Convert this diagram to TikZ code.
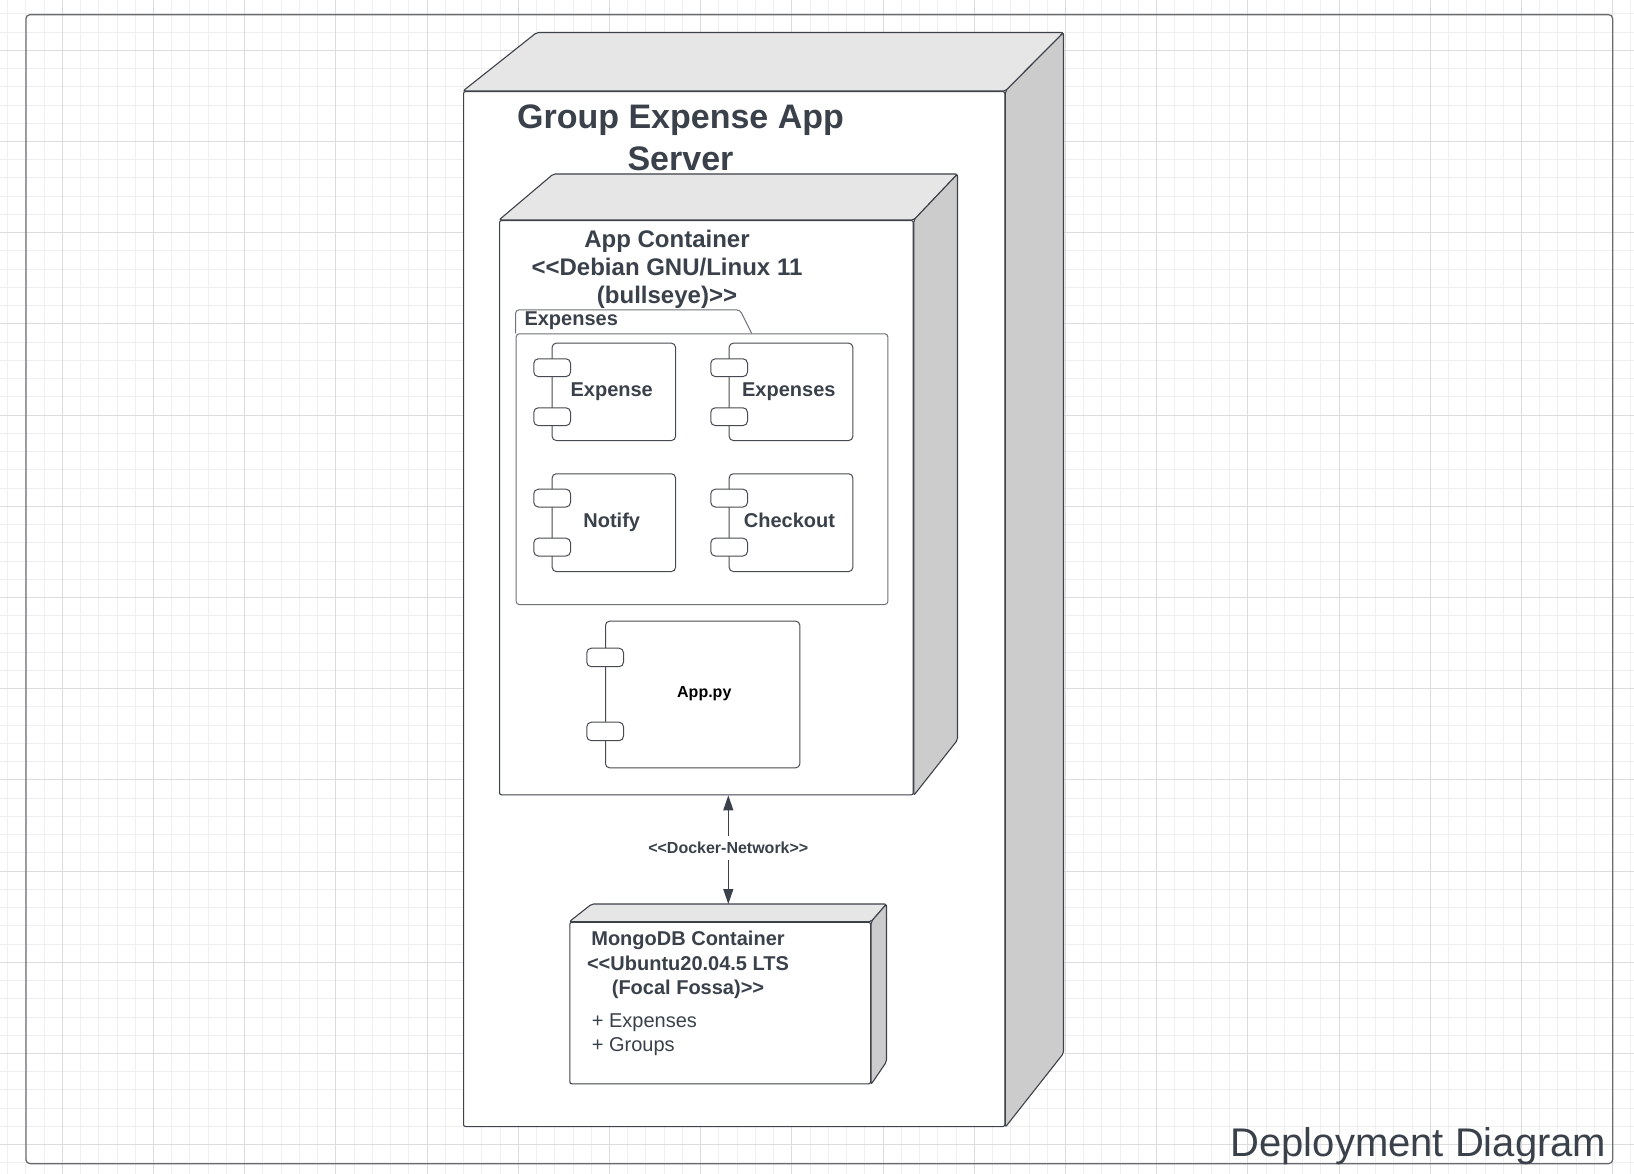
\documentclass[tikz,border=0pt]{standalone}
\usepackage{fontspec}
\setmainfont{Liberation Sans}[Ligatures=TeXOff]
\usetikzlibrary{arrows.meta,calc}
\definecolor{txt}{HTML}{3A414A}
\definecolor{edge}{HTML}{3D4148}
\definecolor{topf}{HTML}{E6E6E6}
\definecolor{sidef}{HTML}{CCCCCC}
\definecolor{gmin}{HTML}{EFEFEF}
\definecolor{gmaj}{HTML}{DCDCDC}
\definecolor{pkgc}{HTML}{6E7176}
\definecolor{compc}{HTML}{474A50}
\definecolor{frm}{HTML}{6A6C70}
\newcommand\fsz[1]{\fontsize{#1}{#1}\selectfont}
\begin{document}
\begin{tikzpicture}[x=1pt,y=-1pt,
  face/.style={draw=edge, line width=1.1pt, line join=round, rounded corners=2pt},
  topface/.style={face, fill=topf},
  sideface/.style={face, fill=sidef},
  frontface/.style={face, fill=white, inner sep=0pt, anchor=north west},
  compbody/.style={draw=compc, line width=1pt, fill=white, rounded corners=4pt, inner sep=0pt, anchor=north west},
  port/.style={draw=compc, line width=1pt, fill=white, rounded corners=4.5pt, minimum width=36.7pt, minimum height=17.8pt, inner sep=0pt, anchor=north west},
  pkgline/.style={draw=pkgc, line width=1pt, rounded corners=3pt},
  lbl/.style={text=txt, inner sep=0pt, anchor=base},
  conn/.style={draw=txt, line width=1.1pt, {Triangle[length=15pt,width=10pt]}-{Triangle[length=15pt,width=10pt]}},
  gridminor/.style={draw=gmin, line width=1pt},
  gridmajor/.style={draw=gmaj, line width=1pt}
]
\useasboundingbox (0,0) rectangle (1634,1174);
\fill[white] (0,0) rectangle (1634,1174);
% grid
\begin{scope}
\clip (0,0) rectangle (1634,1174);
\foreach \i in {0,...,89} {\pgfmathsetmacro\xx{7.58+18.24*\i}\draw[gridminor] (\xx,0) -- (\xx,1174);}
\foreach \i in {0,...,64} {\pgfmathsetmacro\yy{13.82+18.24*\i}\draw[gridminor] (0,\yy) -- (1634,\yy);}
\foreach \i in {0,...,17} {\pgfmathsetmacro\xx{62.3+91.2*\i}\draw[gridmajor] (\xx,0) -- (\xx,1174);}
\foreach \i in {0,...,12} {\pgfmathsetmacro\yy{50.3+91.2*\i}\draw[gridmajor] (0,\yy) -- (1634,\yy);}
\end{scope}
% frame
\node[draw=frm, line width=1.3pt, rounded corners=4pt, inner sep=0pt, anchor=north west,
  minimum width=1586.7pt, minimum height=1149pt] (frame) at (25.3,14) {};
\node[lbl, anchor=base east, font=\fsz{40}] (dtitle) at (1606.5,1156.7) {Deployment Diagram};

% outer server box
\node[frontface, minimum width=541.3pt, minimum height=1035pt] (server) at (463,91) {};
\draw[topface] (server.north west) -- (536.7,32.5) -- (1063.5,32.5) -- (server.north east) -- cycle;
\draw[sideface] (server.north east) -- (1063.5,32.5) -- (1063.5,1053.3) -- (server.south east) -- cycle;
\node[lbl, font=\bfseries\fsz{34}] (st1) at (680.5,128.3) {Group Expense App};
\node[lbl, font=\bfseries\fsz{34}] (st2) at (680.5,171) {Server};

% app container
\node[frontface, minimum width=413.7pt, minimum height=574.3pt] (appc) at (499,220) {};
\draw[topface] (appc.north west) -- (553.3,174) -- (957.5,174) -- (appc.north east) -- cycle;
\draw[sideface] (appc.north east) -- (957.5,174) -- (957.5,740) -- (appc.south east) -- cycle;
\node[lbl, font=\bfseries\fsz{24}] (at1) at (667,247.3) {App Container};
\node[lbl, font=\bfseries\fsz{24}] (at2) at (667,275.5) {<<Debian GNU/Linux 11};
\node[lbl, font=\bfseries\fsz{24}] (at3) at (667,303.5) {(bullseye)>>};

% package
\node[pkgline, fill=white, inner sep=0pt, anchor=north west, minimum width=371.6pt, minimum height=270.7pt] (pkg) at (515.7,333.3) {};
\draw[pkgline] (pkg.north west) -- (515.7,310) -- (740,310) -- (751.7,333.3);
\node[lbl, anchor=base west, font=\bfseries\fsz{20}] (pkgt) at (524.3,325.7) {Expenses};

% components
\node[compbody, minimum width=123.3pt, minimum height=97.3pt] (c1) at (551.7,342.7) {};
\node[port] (c1a) at (533.3,358.3) {};
\node[port] (c1b) at (533.3,407.3) {};
\node[lbl, font=\bfseries\fsz{20}] (c1t) at (611.7,396) {Expense};

\node[compbody, minimum width=123.6pt, minimum height=97.3pt] (c2) at (728.7,342.7) {};
\node[port] (c2a) at (710.3,358.3) {};
\node[port] (c2b) at (710.3,407.3) {};
\node[lbl, font=\bfseries\fsz{20}] (c2t) at (788.8,396) {Expenses};

\node[compbody, minimum width=123.3pt, minimum height=97.7pt] (c3) at (551.7,473.3) {};
\node[port] (c3a) at (533.3,488.7) {};
\node[port] (c3b) at (533.3,537.7) {};
\node[lbl, font=\bfseries\fsz{20}] (c3t) at (611.7,527.3) {Notify};

\node[compbody, minimum width=123.6pt, minimum height=97.7pt] (c4) at (728.7,473.3) {};
\node[port] (c4a) at (710.3,488.7) {};
\node[port] (c4b) at (710.3,537.7) {};
\node[lbl, font=\bfseries\fsz{20}] (c4t) at (789.5,527.3) {Checkout};

\node[compbody, minimum width=194.3pt, minimum height=146.6pt] (c5) at (605,620.7) {};
\node[port, minimum height=18.5pt] (c5a) at (586.3,647.7) {};
\node[port, minimum height=18.5pt] (c5b) at (586.3,721.7) {};
\node[lbl, text=black, font=\bfseries\fsz{16}] (c5t) at (704.3,697.7) {App.py};

% mongodb container
\node[frontface, minimum width=300.7pt, minimum height=161.6pt] (mongo) at (569.3,921.7) {};
\coordinate (mongotop) at (591.7,904);
\draw[topface] (mongo.north west) -- (mongotop) -- (886.5,904) -- (mongo.north east) -- cycle;
\draw[sideface] (mongo.north east) -- (886.5,904) -- (886.5,1061.7) -- (mongo.south east) -- cycle;
\node[lbl, font=\bfseries\fsz{20}] (mt1) at (688,945.7) {MongoDB Container};
\node[lbl, font=\bfseries\fsz{20}] (mt2) at (688,970) {<<Ubuntu20.04.5 LTS};
\node[lbl, font=\bfseries\fsz{20}] (mt3) at (688,994.7) {(Focal Fossa)>>};
\node[lbl, anchor=base west, font=\fsz{20}] (ma1) at (591.7,1027.7) {+ Expenses};
\node[lbl, anchor=base west, font=\fsz{20}] (ma2) at (591.7,1051.7) {+ Groups};

% connector
\coordinate (ax) at (728.3,0);
\draw[conn] (appc.south -| ax) -- node[midway, yshift=2pt, fill=white, inner xsep=1pt, inner ysep=6pt, text=txt, font=\bfseries\fsz{16}] (dnet) {<<Docker-Network>>} (mongotop -| ax);
\end{tikzpicture}
\end{document}
